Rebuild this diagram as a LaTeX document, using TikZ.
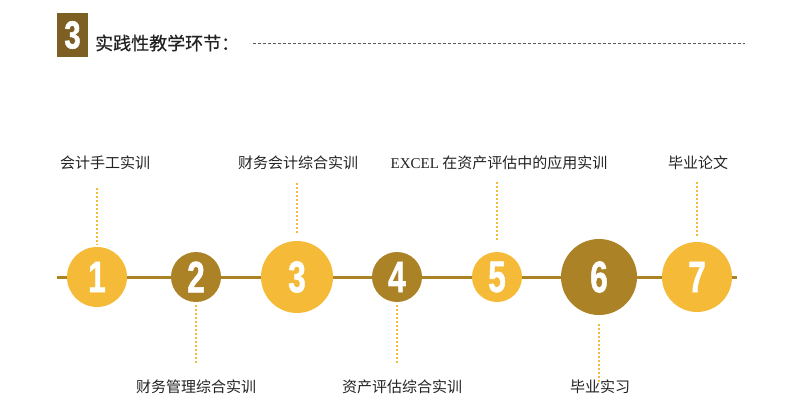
\documentclass[tikz,border=0pt]{standalone}
\usepackage{fontspec}
\setmainfont{Liberation Serif}
\setsansfont{Liberation Sans}
\newfontfamily\cjk{Noto Sans CJK SC}
\newfontfamily\cjkhead[FakeBold=0.6]{Noto Sans CJK SC}
\newfontfamily\digitfont[BoldFeatures={FakeBold=1.5}]{Liberation Sans}
\usetikzlibrary{positioning}
\definecolor{gold}{HTML}{F5BB38}
\definecolor{bronze}{HTML}{AB8226}
\definecolor{boxbrown}{HTML}{7D5F24}
\definecolor{txt}{HTML}{222222}

\begin{document}
\begin{tikzpicture}[x=1pt, y=-1pt,
  ball/.style={circle, inner sep=0pt, text=white, font=\digitfont\bfseries\fontsize{44}{44}\selectfont},
  lbl/.style={text=txt, inner sep=0pt, font=\cjk\fontsize{15}{18}\selectfont},
  dots/.style={gold, line width=2pt, dash pattern=on 2pt off 2pt}]
\useasboundingbox (0,0) rectangle (800,415);
% heading
\node[fill=boxbrown, minimum width=31pt, minimum height=44pt, inner sep=0pt, text=white,
  font=\digitfont\bfseries\fontsize{39}{39}\selectfont] (hd) at (72.5,35) {\scalebox{0.75}[1]{3}};
\node[lbl, font=\cjkhead\fontsize{18}{21}\selectfont, anchor=west] (title) at (95,43) {实践性教学环节：};
\coordinate (he) at (745,43);
\draw[black!65, line width=1pt, dash pattern=on 3pt off 2pt, shorten <=14pt] (title.east) -- (he);
% time line
\coordinate (L) at (57,277);
\coordinate (R) at (737,277);
\draw[bronze, line width=3pt] (L) -- (R);
% steps
\foreach \n/\x/\r/\col/\lx/\ly/\dy/\gap/\txt in {
  1/97/30/gold/105/163/188/2/会计手工实训,
  2/196/25/bronze/196/387/363/3/财务管理综合实训,
  3/297/36/gold/298/163/183/6/财务会计综合实训,
  4/397/25/bronze/402/387/363/3/资产评估综合实训,
  5/497/25/gold/499/163/182/10/{{\rmfamily EXCEL} 在资产评估中的应用实训},
  6/599/38/bronze/600/387/382/8/毕业实习,
  7/697/35/gold/698/163/182/5/毕业论文}
{
  \node[ball, fill=\col, minimum size=2*\r pt] (c\n) at (\x,277) {\scalebox{0.72}[1]{\n}};
  \node[lbl] (l\n) at (\lx,\ly) {\txt};
  \coordinate (d\n) at (\x,\dy);
  \draw[dots, shorten >=\gap pt] (d\n) -- (c\n);
}
\end{tikzpicture}
\end{document}
